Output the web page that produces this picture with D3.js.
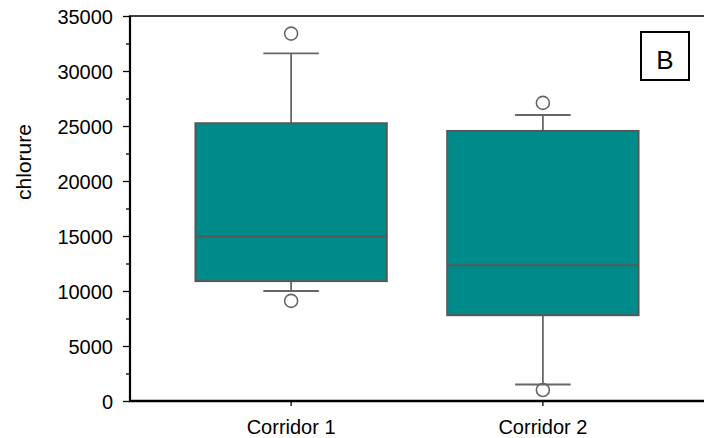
<!DOCTYPE html>
<html>
<head>
<meta charset="utf-8">
<script src="https://cdn.jsdelivr.net/npm/d3@7"></script>
<style>
  html, body { margin: 0; padding: 0; background: #fff; }
  svg { display: block; }
  text { font-family: "Liberation Sans", Arial, sans-serif; fill: #000; }
</style>
</head>
<body>
<svg id="chart" width="704" height="438"></svg>
<script>
// Chloride concentration by corridor: five-number summaries plus outliers
const categories = ["Corridor 1", "Corridor 2"];
const whiskerLow = [10000, 1500];
const q1 = [10900, 7800];
const median = [14950, 12350];
const q3 = [25250, 24550];
const whiskerHigh = [31600, 26000];
const outliers = [[9100, 33400], [1000, 27100]];
const yTicks = [0, 5000, 10000, 15000, 20000, 25000, 30000, 35000];
const yMinorTicks = [2500, 7500, 12500, 17500, 22500, 27500, 32500];
const yLabel = "chlorure";
const panelTag = "B";

const svg = d3.select("#chart");
const plotLeft = 130, plotRight = 704, plotTop = 16, plotBottom = 401;

const x = d3.scaleBand().domain(categories).range([plotLeft, plotRight])
  .paddingInner(0.24).paddingOuter(0.26);
const y = d3.scaleLinear().domain([0, 35000]).range([plotBottom, plotTop]);

const boxFill = "#008b8b";
const boxStroke = "#585858";
const whiskerStroke = "#666666";

const data = categories.map((c, i) => ({
  c, lo: whiskerLow[i], q1: q1[i], med: median[i], q3: q3[i], hi: whiskerHigh[i], out: outliers[i]
}));

const g = svg.append("g");
const capHalf = x.bandwidth() * 0.145;

const item = g.selectAll("g.box").data(data).join("g").attr("class", "box");
const cx = d => x(d.c) + x.bandwidth() / 2;

// whiskers
item.append("line")
  .attr("x1", cx).attr("x2", cx)
  .attr("y1", d => y(d.q3)).attr("y2", d => y(d.hi))
  .attr("stroke", whiskerStroke).attr("stroke-width", 1.8);
item.append("line")
  .attr("x1", cx).attr("x2", cx)
  .attr("y1", d => y(d.q1)).attr("y2", d => y(d.lo))
  .attr("stroke", whiskerStroke).attr("stroke-width", 1.8);
item.append("line")
  .attr("x1", d => cx(d) - capHalf).attr("x2", d => cx(d) + capHalf)
  .attr("y1", d => y(d.hi)).attr("y2", d => y(d.hi))
  .attr("stroke", whiskerStroke).attr("stroke-width", 1.8);
item.append("line")
  .attr("x1", d => cx(d) - capHalf).attr("x2", d => cx(d) + capHalf)
  .attr("y1", d => y(d.lo)).attr("y2", d => y(d.lo))
  .attr("stroke", whiskerStroke).attr("stroke-width", 1.8);

// boxes
item.append("rect")
  .attr("x", d => x(d.c)).attr("width", x.bandwidth())
  .attr("y", d => y(d.q3)).attr("height", d => y(d.q1) - y(d.q3))
  .attr("fill", boxFill).attr("stroke", boxStroke).attr("stroke-width", 2);

// medians
item.append("line")
  .attr("x1", d => x(d.c)).attr("x2", d => x(d.c) + x.bandwidth())
  .attr("y1", d => y(d.med)).attr("y2", d => y(d.med))
  .attr("stroke", boxStroke).attr("stroke-width", 2);

// outliers
item.selectAll("circle").data(d => d.out.map(v => ({ v, d }))).join("circle")
  .attr("cx", o => cx(o.d)).attr("cy", o => y(o.v)).attr("r", 6.5)
  .attr("fill", "none").attr("stroke", whiskerStroke).attr("stroke-width", 1.6);

// frame: top border
svg.append("line").attr("x1", plotLeft - 1).attr("x2", plotRight).attr("y1", plotTop).attr("y2", plotTop)
  .attr("stroke", "#000").attr("stroke-width", 1.6);

// y axis
const yAxis = svg.append("g").attr("transform", `translate(${plotLeft},0)`)
  .call(d3.axisLeft(y).tickValues(yTicks).tickSize(7).tickPadding(10).tickFormat(d3.format("d")));
yAxis.select(".domain").attr("stroke", "#000").attr("stroke-width", 2.2)
  .attr("d", `M0,${plotTop}V${plotBottom}`);
yAxis.selectAll(".tick line").attr("stroke", "#000").attr("stroke-width", 1.3);
yAxis.selectAll(".tick text").attr("font-size", 20)
  .attr("font-family", "Liberation Sans, Arial, sans-serif").attr("fill", "#000").attr("dy", "0.36em");
svg.append("g").attr("transform", `translate(${plotLeft},0)`)
  .call(d3.axisLeft(y).tickValues(yMinorTicks).tickSize(4).tickFormat(""))
  .call(a => a.select(".domain").remove())
  .selectAll(".tick line").attr("stroke", "#000").attr("stroke-width", 1.3);

// x axis
const xAxis = svg.append("g").attr("transform", `translate(0,${plotBottom})`)
  .call(d3.axisBottom(x).tickSize(5).tickPadding(14));
xAxis.select(".domain").attr("stroke", "#000").attr("stroke-width", 2.4)
  .attr("d", `M${plotLeft - 1},0H${plotRight}`);
xAxis.selectAll(".tick line").attr("stroke", "#000").attr("stroke-width", 1.3);
xAxis.selectAll(".tick text").attr("font-size", 20)
  .attr("font-family", "Liberation Sans, Arial, sans-serif").attr("fill", "#000");

// y axis title
svg.append("text")
  .attr("transform", `translate(31,162) rotate(-90)`)
  .attr("text-anchor", "middle").attr("font-size", 21)
  .text(yLabel);

// panel tag
svg.append("rect").attr("x", 641).attr("y", 32).attr("width", 48).attr("height", 48)
  .attr("fill", "#fff").attr("stroke", "#000").attr("stroke-width", 2);
svg.append("text").attr("x", 665).attr("y", 69).attr("text-anchor", "middle")
  .attr("font-size", 26).text(panelTag);
</script>
</body>
</html>
